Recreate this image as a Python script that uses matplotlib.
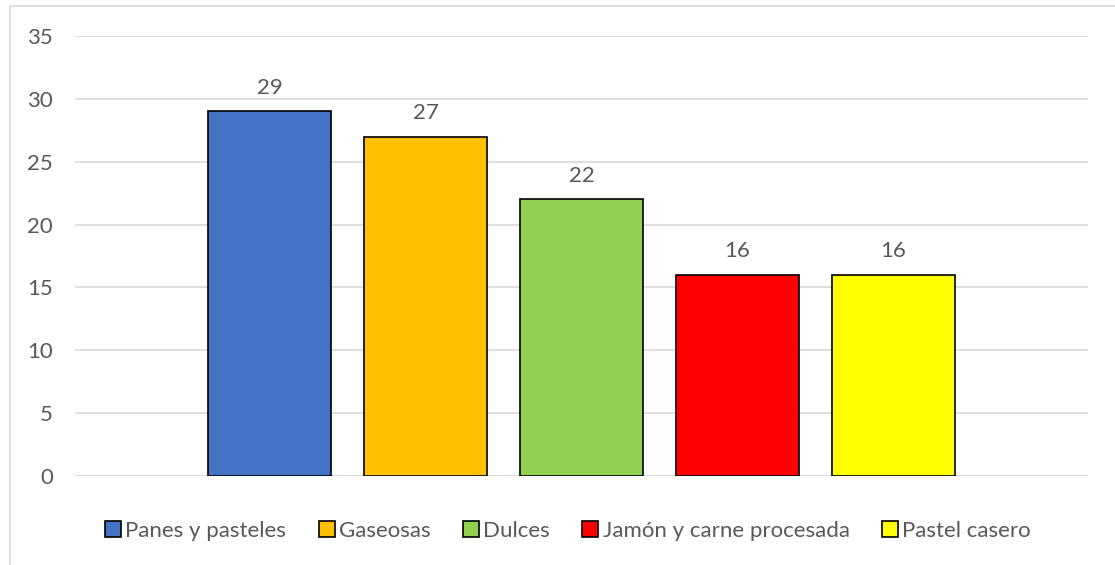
import matplotlib.pyplot as plt
from matplotlib.patches import Rectangle

categorias = ['Panes y pasteles', 'Gaseosas', 'Dulces', 'Jamón y carne procesada', 'Pastel casero']
valores = [29, 27, 22, 16, 16]
colores = ['#4472C4', '#FFC000', '#92D050', '#FF0000', '#FFFF00']

plt.rcParams['font.family'] = ['Lato', 'DejaVu Sans']
gris = '#595959'
fs = 16

fig = plt.figure(figsize=(11.15, 5.65), dpi=100)
ax = fig.add_axes([75 / 1115, 1 - 476 / 565, (1088 - 75) / 1115, (476 - 36) / 565])

for i, (cat, val, col) in enumerate(zip(categorias, valores, colores)):
    ax.bar(i, val, width=0.79, color=col, edgecolor='black', linewidth=1.2, label=cat, zorder=3)
    ax.text(i, val + 1.1, str(val), ha='center', va='bottom', fontsize=fs, color=gris)

ax.set_xlim(-1.25, 4 + 1.25)
ax.set_ylim(0, 35)
ax.set_yticks(range(0, 36, 5))
ax.set_xticks([])
ax.yaxis.grid(True, color='#D9D9D9', linewidth=1.2, zorder=0)
ax.tick_params(axis='y', length=0, pad=16, labelsize=fs, labelcolor=gris)
for s in ax.spines.values():
    s.set_visible(False)
ax.axhline(0, color='#D9D9D9', linewidth=1.2, zorder=1)

fig.legend(loc='center', bbox_to_anchor=(568 / 1115, 1 - 531 / 565), ncol=5, frameon=False,
           fontsize=fs, labelcolor=gris, handlelength=0.72, handleheight=0.72,
           handletextpad=0.2, columnspacing=1.45)

# borde del gráfico
fig.patches.append(Rectangle((10 / 1115, -0.1), 1.2, 1 - 6 / 565 + 0.1, transform=fig.transFigure,
                             fill=False, edgecolor='#D9D9D9', linewidth=1.2))

fig.savefig('out.png', dpi=100)
